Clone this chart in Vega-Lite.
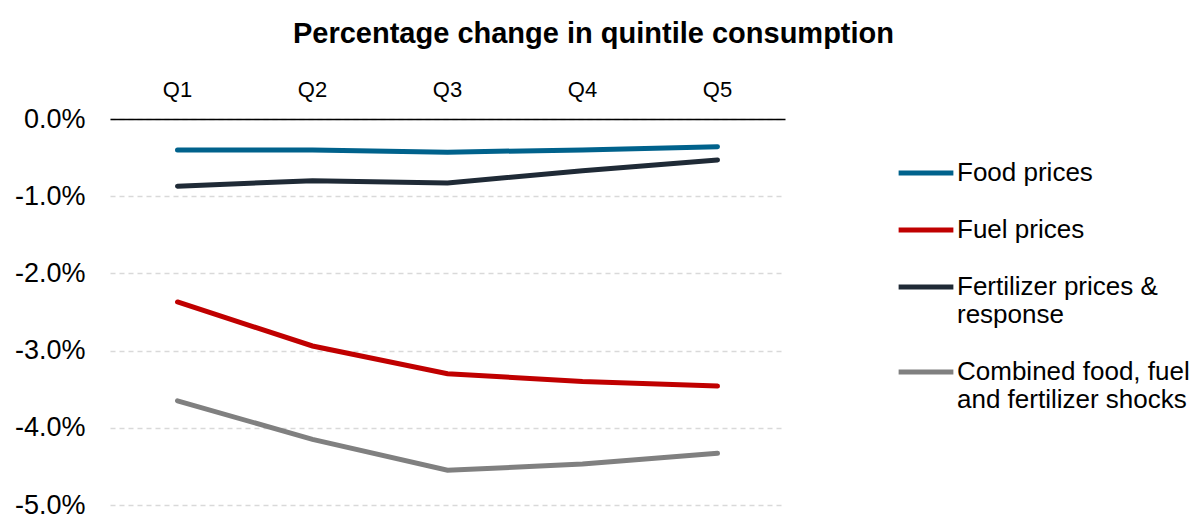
{
  "$schema": "https://vega.github.io/schema/vega-lite/v6.json",
  "width": 675,
  "height": 386,
  "autosize": {"type": "none"},
  "padding": {"left": 110, "top": 119, "right": 415, "bottom": 9},
  "background": "white",
  "title": {
    "text": "Percentage change in quintile consumption",
    "font": "Liberation Sans",
    "fontSize": 29,
    "fontWeight": "bold",
    "color": "#000000",
    "anchor": "middle",
    "dx": 146,
    "offset": 29
  },
  "data": {
    "values": [
      {"quintile": "Q1", "series": "Food prices", "value": -0.0040},
      {"quintile": "Q2", "series": "Food prices", "value": -0.0040},
      {"quintile": "Q3", "series": "Food prices", "value": -0.0043},
      {"quintile": "Q4", "series": "Food prices", "value": -0.0040},
      {"quintile": "Q5", "series": "Food prices", "value": -0.0036},
      {"quintile": "Q1", "series": "Fuel prices", "value": -0.0237},
      {"quintile": "Q2", "series": "Fuel prices", "value": -0.0294},
      {"quintile": "Q3", "series": "Fuel prices", "value": -0.0330},
      {"quintile": "Q4", "series": "Fuel prices", "value": -0.0340},
      {"quintile": "Q5", "series": "Fuel prices", "value": -0.0346},
      {"quintile": "Q1", "series": "Fertilizer prices & response", "value": -0.0087},
      {"quintile": "Q2", "series": "Fertilizer prices & response", "value": -0.0080},
      {"quintile": "Q3", "series": "Fertilizer prices & response", "value": -0.0083},
      {"quintile": "Q4", "series": "Fertilizer prices & response", "value": -0.0067},
      {"quintile": "Q5", "series": "Fertilizer prices & response", "value": -0.0053},
      {"quintile": "Q1", "series": "Combined food, fuel and fertilizer shocks", "value": -0.0365},
      {"quintile": "Q2", "series": "Combined food, fuel and fertilizer shocks", "value": -0.0415},
      {"quintile": "Q3", "series": "Combined food, fuel and fertilizer shocks", "value": -0.0455},
      {"quintile": "Q4", "series": "Combined food, fuel and fertilizer shocks", "value": -0.0447},
      {"quintile": "Q5", "series": "Combined food, fuel and fertilizer shocks", "value": -0.0433}
    ]
  },
  "mark": {"type": "line", "strokeWidth": 5, "strokeCap": "round"},
  "encoding": {
    "x": {
      "field": "quintile",
      "type": "ordinal",
      "title": null,
      "scale": {"type": "band", "paddingInner": 0, "paddingOuter": 0},
      "axis": {
        "orient": "top",
        "ticks": false,
        "labelAngle": 0,
        "labelFont": "Liberation Sans",
        "labelFontSize": 22,
        "labelColor": "#000000",
        "labelPadding": 18,
        "domainColor": "#000000",
        "domainWidth": 1.5,
        "grid": false
      }
    },
    "y": {
      "field": "value",
      "type": "quantitative",
      "title": null,
      "scale": {"domain": [-0.05, 0], "nice": false},
      "axis": {
        "values": [0, -0.01, -0.02, -0.03, -0.04, -0.05],
        "labelExpr": "replace(format(datum.value, '.1%'), '\u2212', '-')",
        "domain": false,
        "ticks": false,
        "labelFont": "Liberation Sans",
        "labelFontSize": 27,
        "labelColor": "#000000",
        "labelPadding": 25,
        "grid": true,
        "gridColor": "#D9D9D9",
        "gridDash": [5, 4],
        "gridWidth": 1.5
      }
    },
    "color": {
      "field": "series",
      "type": "nominal",
      "scale": {
        "domain": ["Food prices", "Fuel prices", "Fertilizer prices & response", "Combined food, fuel and fertilizer shocks"],
        "range": ["#00628C", "#C00000", "#1F2A36", "#808080"]
      },
      "legend": {
        "title": null,
        "orient": "none",
        "legendX": 786,
        "legendY": 24,
        "padding": 0,
        "symbolType": "stroke",
        "symbolSize": 3000,
        "symbolStrokeWidth": 5,
        "labelOffset": 1,
        "labelFont": "Liberation Sans",
        "labelFontSize": 26,
        "labelColor": "#000000",
        "labelLimit": 400,
        "rowPadding": 14,
        "labelExpr": "datum.label == 'Fertilizer prices & response' ? ['Fertilizer prices &', 'response'] : datum.label == 'Combined food, fuel and fertilizer shocks' ? ['Combined food, fuel', 'and fertilizer shocks'] : datum.label"
      }
    }
  },
  "config": {
    "view": {"stroke": null},
    "legend": {"symbolStrokeColor": null}
  }
}
